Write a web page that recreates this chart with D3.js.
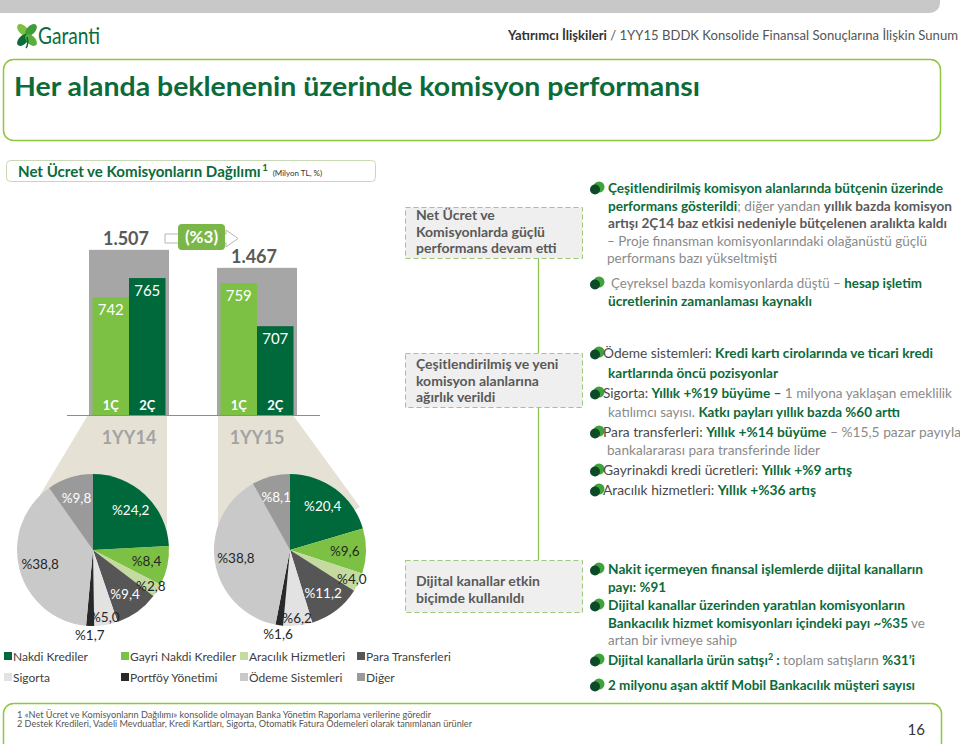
<!DOCTYPE html>
<html><head><meta charset="utf-8">
<script src="https://cdn.jsdelivr.net/npm/d3@7"></script>
<style>body{margin:0;background:#fff}svg{display:block;font-family:Lato,"Open Sans",sans-serif}</style>
</head><body><svg id="c" width="960" height="744"></svg>
<script>
// ---------- data ----------
const periods = ["1YY14", "1YY15"];
const quarters = ["1Ç", "2Ç"];
const quarterValues14 = [742, 765];
const quarterValues15 = [759, 707];
const totals = [1507, 1467];
const totalLabels = ["1.507", "1.467"];
const changeLabel = "(%3)";
const categories = ["Nakdi Krediler", "Gayri Nakdi Krediler", "Aracılık Hizmetleri", "Para Transferleri",
                    "Sigorta", "Portföy Yönetimi", "Ödeme Sistemleri", "Diğer"];
const share14 = [24.2, 8.4, 2.8, 9.4, 5.0, 1.7, 38.8, 9.8];
const share15 = [20.4, 9.6, 4.0, 11.2, 6.2, 1.6, 38.8, 8.1];

// ---------- styles ----------
const GREEN = "#0b6b3a", GRAY = "#808080", DGRAY = "#595959";
const catColors = ["#00693c", "#7cc143", "#c4da9f", "#565656", "#e2e2e2", "#292929", "#c9c9c9", "#9a9a9a"];
const labelDark = [false, true, true, false, true, true, true, false];

const svg = d3.select("#c");

// header
svg.append("rect").attr("x", -12).attr("y", -14).attr("width", 952).attr("height", 27).attr("rx", 10).attr("fill", "#c8c8c8");
const logo = svg.append("g").attr("transform", "translate(27,35)");
[[-45, "#7cc143", -4, -5], [45, "#3f9b3c", 4, -5], [-135, "#0b6b3a", -4, 5], [135, "#5aae3e", 4, 5]].forEach(([a, c, dx, dy]) => {
  logo.append("ellipse").attr("cx", dx).attr("cy", dy).attr("rx", 4.2).attr("ry", 7.2)
    .attr("transform", `rotate(${a} ${dx} ${dy})`).attr("fill", c);
});
logo.append("path").attr("d", "M0,2 Q2,9 -1,13").attr("stroke", "#0b6b3a").attr("stroke-width", 1.6).attr("fill", "none");
svg.append("text").attr("x", 38).attr("y", 44).attr("font-size", 23).attr("fill", GREEN)
  .attr("textLength", 62).attr("lengthAdjust", "spacingAndGlyphs").text("Garanti");
const hdr = svg.append("text").attr("x", 958).attr("y", 40).attr("text-anchor", "end").attr("font-size", 13)
  .attr("textLength", 450).attr("lengthAdjust", "spacingAndGlyphs");
hdr.append("tspan").attr("font-weight", 700).attr("fill", "#333").text("Yatırımcı İlişkileri");
hdr.append("tspan").attr("fill", "#555").text(" / 1YY15 BDDK Konsolide Finansal Sonuçlarına İlişkin Sunum");

// title box
svg.append("rect").attr("x", 3.5).attr("y", 59.5).attr("width", 937).attr("height", 81).attr("rx", 10)
  .attr("fill", "none").attr("stroke", "#8dc63f").attr("stroke-width", 1.5);
svg.append("text").attr("x", 14).attr("y", 96).attr("font-size", 27).attr("font-weight", 700).attr("fill", GREEN)
  .attr("textLength", 686).attr("lengthAdjust", "spacingAndGlyphs").text("Her alanda beklenenin üzerinde komisyon performansı");

// subtitle box
svg.append("rect").attr("x", 6.5).attr("y", 160.5).attr("width", 369).attr("height", 21).attr("rx", 4)
  .attr("fill", "#fff").attr("stroke", "#c9d8b4");
const subMain = svg.append("text").attr("x", 18).attr("y", 177).attr("font-weight", 700).attr("fill", GREEN)
  .attr("font-size", 16).text("Net Ücret ve Komisyonların Dağılımı");
{
  const w0 = subMain.node().getComputedTextLength();
  const fs = 16 * 243 / w0;
  subMain.attr("font-size", fs);
  const endX = 18 + subMain.node().getComputedTextLength();
  const supT = svg.append("text").attr("x", endX + 1.5).attr("y", 171).attr("font-size", 9.5).attr("font-weight", 700)
    .attr("fill", GREEN).text("1");
  const endS = endX + 1.5 + supT.node().getComputedTextLength();
  svg.append("text").attr("x", endS + 5).attr("y", 176).attr("font-size", 8).attr("fill", "#333").text("(Milyon TL, %)");
}

// ---------- bar chart ----------
const x = d3.scaleBand().domain(periods).range([89, 297]).paddingInner(0.375).paddingOuter(0);
const xq = d3.scaleBand().domain(quarters).range([3.5, x.bandwidth() - 3.5]);
const yT = d3.scaleLinear().domain([1140, 1540]).range([415, 235]);
const yQ = d3.scaleLinear().domain([600, 800]).range([415, 249]);
const base = yQ(600);

const pieR = 76;
const pieCenters = [[93, 550], [290, 550]];

// beige funnels
const beige = "#e5e2d5";
{
  const x0 = x(periods[0]), x1 = x0 + x.bandwidth(), [cx, cy] = pieCenters[0];
  svg.append("path").attr("fill", beige).attr("d",
    `M${x0 - 1},${base} L${x1 - 2},${base} L${x1 - 2},${cy} L${cx},${cy} L${cx - pieR + 2},${cy - 20} Z`);
  const x2 = x(periods[1]), x3 = x2 + x.bandwidth(), [cx2, cy2] = pieCenters[1];
  svg.append("path").attr("fill", beige).attr("d",
    `M${x2 + 1},${base} L${x3 - 4},${base} L${cx2 + 70},${cy2 - 43} L${cx2},${cy2} L${x2 + 1},${cy2} Z`);
}

const groups = svg.selectAll("g.grp").data(periods.map((p, i) => ({
  p, total: totals[i], tl: totalLabels[i], q: [quarterValues14, quarterValues15][i]
}))).join("g").attr("class", "grp").attr("transform", d => `translate(${x(d.p)},0)`);

groups.append("rect").attr("x", 0).attr("width", x.bandwidth())
  .attr("y", d => yT(d.total)).attr("height", d => base - yT(d.total)).attr("fill", "#a6a6a6");
groups.append("text").attr("x", x.bandwidth() / 2 - 3).attr("y", d => yT(d.total) - 5)
  .attr("text-anchor", "middle").attr("font-size", 18).attr("font-weight", 700).attr("fill", DGRAY).text(d => d.tl);

groups.each(function (d) {
  const g = d3.select(this);
  const qd = quarters.map((q, j) => ({ q, v: d.q[j], j }));
  g.selectAll("rect.q").data(qd).join("rect").attr("class", "q")
    .attr("x", e => xq(e.q)).attr("width", xq.bandwidth())
    .attr("y", e => yQ(e.v)).attr("height", e => base - yQ(e.v))
    .attr("fill", e => e.j === 0 ? "#7cc143" : "#00693c");
  g.selectAll("text.v").data(qd).join("text").attr("class", "v")
    .attr("x", e => xq(e.q) + xq.bandwidth() / 2).attr("y", e => yQ(e.v) + 18)
    .attr("text-anchor", "middle").attr("font-size", 15).attr("fill", "#fff").text(e => e.v);
  g.selectAll("text.ql").data(qd).join("text").attr("class", "ql")
    .attr("x", e => xq(e.q) + xq.bandwidth() / 2).attr("y", base - 5)
    .attr("text-anchor", "middle").attr("font-size", 13).attr("font-weight", 700).attr("fill", "#fff").text(e => e.q);
});

svg.append("line").attr("x1", 67).attr("x2", 320).attr("y1", base + 0.5).attr("y2", base + 0.5)
  .attr("stroke", "#8c8c8c").attr("stroke-width", 1.2);

svg.selectAll("text.per").data(periods).join("text").attr("class", "per")
  .attr("x", d => x(d) + x.bandwidth() / 2).attr("y", 444).attr("text-anchor", "middle")
  .attr("font-size", 18).attr("font-weight", 700).attr("fill", "#a3a3a3").text(d => d);

// change arrow
svg.append("path").attr("d", "M165,234 L226,234 L226,230 L238,238.5 L226,247 L226,243 L165,243 Z")
  .attr("fill", "#fff").attr("stroke", "#b5b5b5").attr("stroke-width", 1);
svg.append("rect").attr("x", 178).attr("y", 224).attr("width", 47).attr("height", 26).attr("rx", 4).attr("fill", "#7ab648");
svg.append("text").attr("x", 201.5).attr("y", 243).attr("text-anchor", "middle").attr("font-size", 17)
  .attr("font-weight", 700).attr("fill", "#fff").text(changeLabel);

// ---------- pies ----------
const pie = d3.pie().sort(null).value(d => d);
const arc = d3.arc().innerRadius(0).outerRadius(pieR);
const fmt = v => "%" + v.toFixed(1).replace(".", ",");
[share14, share15].forEach((vals, k) => {
  const [cx, cy] = pieCenters[k];
  const g = svg.append("g").attr("transform", `translate(${cx},${cy})`);
  const arcs = pie(vals);
  g.selectAll("path").data(arcs).join("path").attr("d", arc).attr("fill", (d, i) => catColors[i]);
  g.selectAll("text").data(arcs).join("text")
    .attr("transform", d => {
      const f = d.value < 2 ? 1.12 : d.value < 7 ? 0.9 : 0.72;
      const a = (d.startAngle + d.endAngle) / 2, r = pieR * f;
      return `translate(${Math.sin(a) * r},${-Math.cos(a) * r})`;
    })
    .attr("text-anchor", "middle").attr("dy", "0.35em").attr("font-size", 13.5)
    .attr("fill", (d, i) => labelDark[i] ? "#262626" : "#fff").text(d => fmt(d.value));
});

// legend
const legX = [4, 121, 240, 357], legY = [656, 677];
const leg = svg.selectAll("g.leg").data(categories).join("g").attr("class", "leg")
  .attr("transform", (d, i) => `translate(${legX[i % 4]},${legY[Math.floor(i / 4)]})`);
leg.append("rect").attr("x", 0).attr("y", -4).attr("width", 8).attr("height", 8).attr("fill", (d, i) => catColors[i]);
leg.append("text").attr("x", 9).attr("y", 4.5).attr("font-size", 12).attr("fill", "#404040").text(d => d);

// ---------- middle boxes ----------
const boxes = [
  { y: 207.5, h: 51, lines: ["Net Ücret ve", "Komisyonlarda güçlü", "performans devam etti"], y0: 220 },
  { y: 353.5, h: 54, lines: ["Çeşitlendirilmiş ve yeni", "komisyon alanlarına", "ağırlık verildi"], y0: 369 },
  { y: 560.5, h: 52, lines: ["Dijital kanallar etkin", "biçimde kullanıldı"], y0: 586 }
];
svg.append("line").attr("x1", 538.5).attr("x2", 538.5).attr("y1", 258).attr("y2", 353).attr("stroke", "#8dc152").attr("stroke-width", 1.3);
svg.append("line").attr("x1", 538.5).attr("x2", 538.5).attr("y1", 407).attr("y2", 560).attr("stroke", "#8dc152").attr("stroke-width", 1.3);
boxes.forEach(b => {
  svg.append("rect").attr("x", 405.5).attr("y", b.y).attr("width", 177).attr("height", b.h)
    .attr("fill", "#efefef").attr("stroke", "#9cc97a").attr("stroke-dasharray", "5,3");
  b.lines.forEach((l, i) => svg.append("text").attr("x", 416).attr("y", b.y0 + i * 16.5)
    .attr("font-size", 14).attr("font-weight", 700).attr("fill", DGRAY).text(l));
});

// ---------- right text ----------
const ST = {
  g: { fill: GREEN, w: 700 },
  r: { fill: "#8a8a8a", w: 400 },
  b: { fill: "#5a5a5a", w: 700 },
  d: { fill: "#4a4a4a", w: 400 }
};
function line(xp, yc, segs, width) {
  const t = svg.append("text").attr("x", xp).attr("y", yc + 5).attr("font-size", 13.5);
  segs.forEach(([s, k, sup]) => {
    const ts = t.append("tspan").text(s).attr("fill", ST[k].fill).attr("font-weight", ST[k].w);
    if (sup) ts.attr("font-size", 9).attr("dy", -5);
    else if (sup === false) ts.attr("dy", 5);
  });
  if (width) t.attr("textLength", width).attr("lengthAdjust", "spacingAndGlyphs");
}
function bullet(yc) {
  svg.append("circle").attr("cx", 599).attr("cy", yc - 1).attr("r", 5.5).attr("fill", "#3ea33a");
  svg.append("circle").attr("cx", 595).attr("cy", yc + 1.5).attr("r", 5).attr("fill", "#0d4a28");
}
const rightLines = [
  [608, 188, [["Çeşitlendirilmiş komisyon alanlarında bütçenin üzerinde", "g"]], 335, true],
  [608, 206, [["performans gösterildi", "g"], ["; diğer yandan ", "r"], ["yıllık bazda komisyon", "b"]], 344],
  [608, 223, [["artışı 2Ç14 baz etkisi nedeniyle bütçelenen aralıkta kaldı", "b"]], 339],
  [607, 241, [["– Proje finansman komisyonlarındaki olağanüstü güçlü", "r"]], 320],
  [607, 258, [["performans bazı yükseltmişti", "r"]], 170],
  [611, 283, [["Çeyreksel bazda komisyonlarda düştü – ", "r"], ["hesap işletim", "g"]], 311, true],
  [608, 301, [["ücretlerinin zamanlaması kaynaklı", "g"]], 204],
  [603, 353, [["Ödeme sistemleri: ", "d"], ["Kredi kartı cirolarında ve ticari kredi", "g"]], 330, true],
  [608, 373, [["kartlarında öncü pozisyonlar", "g"]], 170],
  [603, 393, [["Sigorta: ", "d"], ["Yıllık +%19 büyüme –", "g"], [" 1 milyona yaklaşan emeklilik", "r"]], 349, true],
  [608, 412, [["katılımcı sayısı. ", "r"], ["Katkı payları yıllık bazda %60 arttı", "g"]], 292],
  [603, 432, [["Para transferleri:  ", "d"], ["Yıllık +%14 büyüme", "g"], [" – %15,5 pazar payıyla", "r"]], 358, true],
  [607, 450, [["bankalararası para transferinde lider", "r"]], 213],
  [603, 470, [["Gayrinakdi kredi ücretleri: ", "d"], ["Yıllık +%9 artış", "g"]], 249, true],
  [603, 490, [["Aracılık hizmetleri: ", "d"], ["Yıllık +%36 artış", "g"]], 213, true],
  [608, 569, [["Nakit içermeyen finansal işlemlerde dijital kanalların", "g"]], 315, true],
  [608, 587, [["payı: %91", "g"]], 58],
  [608, 605, [["Dijital kanallar üzerinden yaratılan komisyonların", "g"]], 297, true],
  [608, 623, [["Bankacılık hizmet komisyonları içindeki payı ~%35", "g"], [" ve", "r"]], 317],
  [608, 640, [["artan bir ivmeye sahip", "r"]], 129],
  [608, 660, [["Dijital kanallarla ürün satışı", "g"], ["2", "g", true], [" : ", "g", false], ["toplam satışların ", "r"], ["%31’i", "g"]], 307, true],
  [608, 685, [["2 milyonu aşan aktif Mobil Bankacılık müşteri sayısı", "g"]], 307, true]
];
rightLines.forEach(([xp, yc, segs, w, b]) => { if (b) bullet(yc); line(xp, yc, segs, w); });

// ---------- footer ----------
svg.append("rect").attr("x", 3.5).attr("y", 703.5).attr("width", 938).attr("height", 70).attr("rx", 10)
  .attr("fill", "none").attr("stroke", "#8dc63f").attr("stroke-width", 1.5);
svg.append("text").attr("x", 17).attr("y", 718).attr("font-size", 8.5).attr("fill", "#555")
  .attr("textLength", 414).attr("lengthAdjust", "spacingAndGlyphs")
  .text("1 «Net Ücret ve Komisyonların Dağılımı» konsolide olmayan Banka Yönetim Raporlama verilerine göredir");
svg.append("text").attr("x", 17).attr("y", 727).attr("font-size", 8.5).attr("fill", "#555")
  .attr("textLength", 455).attr("lengthAdjust", "spacingAndGlyphs")
  .text("2 Destek Kredileri, Vadeli Mevduatlar, Kredi Kartları, Sigorta, Otomatik Fatura Ödemeleri olarak tanımlanan ürünler");
svg.append("text").attr("x", 925).attr("y", 735).attr("text-anchor", "end").attr("font-size", 15).attr("fill", "#333").text("16");
</script></body></html>
